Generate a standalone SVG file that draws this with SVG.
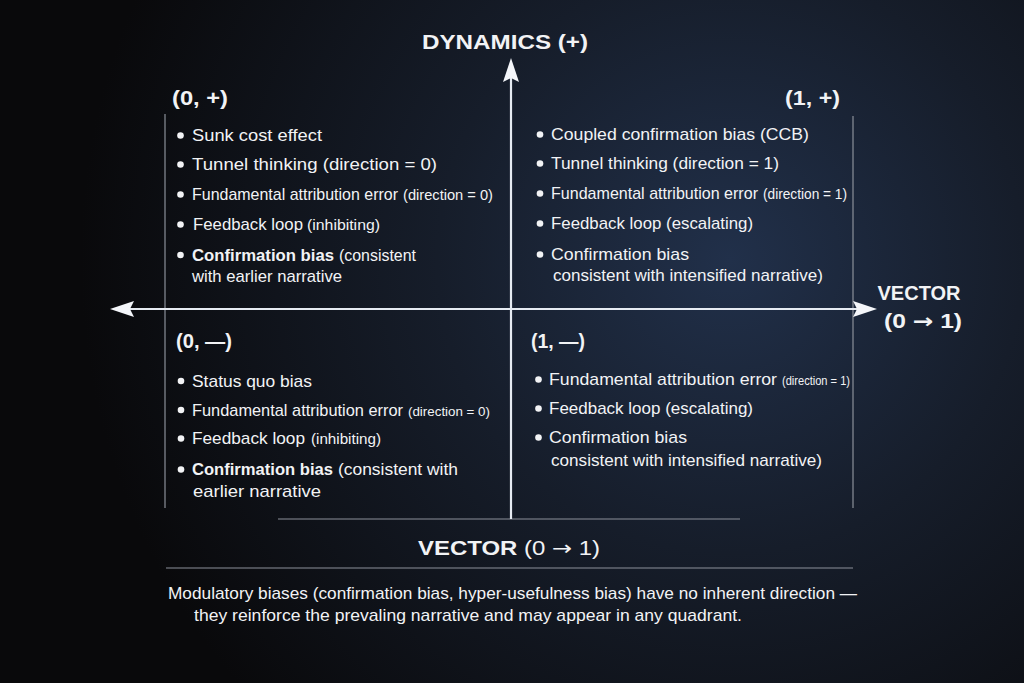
<svg xmlns="http://www.w3.org/2000/svg" width="1024" height="683" viewBox="0 0 1024 683">
<defs>
<radialGradient id="bg" cx="730" cy="260" r="650" gradientUnits="userSpaceOnUse">
<stop offset="0" stop-color="#21304a"/>
<stop offset="0.45" stop-color="#161d2a"/>
<stop offset="1" stop-color="#09090b"/>
</radialGradient>
<marker id="arrow" viewBox="0 0 24 16" refX="4" refY="8" markerWidth="24" markerHeight="16" markerUnits="userSpaceOnUse" orient="auto-start-reverse">
<path d="M0,0 L24,8 L0,16 L4,8 z" fill="#f4f6fa"/>
</marker>
</defs>
<style>
text{font-family:"Liberation Sans","Noto Sans",sans-serif;fill:#f2f3f5}
.item{font-size:17px}
.sm{font-size:15px}
.xs{font-size:13.5px}
.b{font-weight:bold}
.head{font-size:21px;font-weight:bold}
.axis{font-size:20px;font-weight:bold}
.arr{font-family:"DejaVu Sans",sans-serif}
.foot{font-size:17px}
.thin{stroke:#8b9099;stroke-width:1.2;fill:none}
.ax{stroke:#e6ebf2;stroke-width:2.2;fill:none}
.dot{fill:#f2f3f5}
</style>
<rect width="1024" height="683" fill="url(#bg)"/>

<g id="frame">
<line class="thin" x1="165" y1="114" x2="165" y2="508"/>
<line class="thin" x1="853" y1="116" x2="853" y2="508"/>
<line class="thin" x1="278" y1="519" x2="740" y2="519"/>
<line class="thin" x1="166" y1="568" x2="853" y2="568"/>
</g>

<g id="connectors">
<line class="ax" x1="511" y1="519" x2="511" y2="78" marker-end="url(#arrow)"/>
<line class="ax" x1="130" y1="309" x2="857" y2="309" marker-start="url(#arrow)" marker-end="url(#arrow)"/>
</g>

<g id="label-dynamics">
<text class="axis" x="505" y="49" text-anchor="middle" textLength="166" lengthAdjust="spacingAndGlyphs">DYNAMICS (+)</text>
</g>

<g id="label-vector-right">
<text class="axis" x="919" y="300" text-anchor="middle" textLength="83" lengthAdjust="spacingAndGlyphs">VECTOR</text>
<text class="axis" x="923" y="328" text-anchor="middle" textLength="78" lengthAdjust="spacingAndGlyphs">(0 <tspan class="arr">→</tspan> 1)</text>
</g>

<g id="quadrant-0-plus">
<text class="head" x="172" y="105" textLength="56" lengthAdjust="spacingAndGlyphs">(0, +)</text>
<circle class="dot" cx="180.5" cy="135.5" r="3.3"/>
<text class="item" x="192" y="141" textLength="130" lengthAdjust="spacingAndGlyphs">Sunk cost effect</text>
<circle class="dot" cx="180.5" cy="164.5" r="3.3"/>
<text class="item" x="192" y="170" textLength="245" lengthAdjust="spacingAndGlyphs">Tunnel thinking (direction = 0)</text>
<circle class="dot" cx="180.5" cy="194.5" r="3.3"/>
<text class="item" x="192" y="200" textLength="206" lengthAdjust="spacingAndGlyphs">Fundamental attribution error</text>
<text class="sm" x="403" y="200" textLength="90" lengthAdjust="spacingAndGlyphs">(direction = 0)</text>
<circle class="dot" cx="180.5" cy="224.5" r="3.3"/>
<text class="item" x="193" y="230" textLength="110" lengthAdjust="spacingAndGlyphs">Feedback loop</text>
<text class="sm" x="307" y="230" textLength="73" lengthAdjust="spacingAndGlyphs">(inhibiting)</text>
<circle class="dot" cx="180.5" cy="255" r="3.3"/>
<text class="item b" x="192" y="261" textLength="142" lengthAdjust="spacingAndGlyphs">Confirmation bias</text>
<text class="item" x="339" y="261" textLength="77" lengthAdjust="spacingAndGlyphs">(consistent</text>
<text class="item" x="192" y="282" textLength="150" lengthAdjust="spacingAndGlyphs">with earlier narrative</text>
</g>

<g id="quadrant-1-plus">
<text class="head" x="840" y="105" text-anchor="end" textLength="55" lengthAdjust="spacingAndGlyphs">(1, +)</text>
<circle class="dot" cx="540" cy="134.5" r="3.3"/>
<text class="item" x="551" y="140" textLength="258" lengthAdjust="spacingAndGlyphs">Coupled confirmation bias (CCB)</text>
<circle class="dot" cx="540" cy="163.5" r="3.3"/>
<text class="item" x="551" y="169" textLength="228" lengthAdjust="spacingAndGlyphs">Tunnel thinking (direction = 1)</text>
<circle class="dot" cx="540" cy="193.5" r="3.3"/>
<text class="item" x="551" y="199" textLength="207" lengthAdjust="spacingAndGlyphs">Fundamental attribution error</text>
<text class="sm" x="763" y="199" textLength="84" lengthAdjust="spacingAndGlyphs">(direction = 1)</text>
<circle class="dot" cx="540" cy="223.5" r="3.3"/>
<text class="item" x="551" y="229" textLength="202" lengthAdjust="spacingAndGlyphs">Feedback loop (escalating)</text>
<circle class="dot" cx="540" cy="254.5" r="3.3"/>
<text class="item" x="551" y="260" textLength="138" lengthAdjust="spacingAndGlyphs">Confirmation bias</text>
<text class="item" x="553" y="281" textLength="270" lengthAdjust="spacingAndGlyphs">consistent with intensified narrative)</text>
</g>

<g id="quadrant-0-minus">
<text class="head" x="176" y="348" textLength="56" lengthAdjust="spacingAndGlyphs">(0, —)</text>
<circle class="dot" cx="181" cy="381" r="3.3"/>
<text class="item" x="192" y="387" textLength="120" lengthAdjust="spacingAndGlyphs">Status quo bias</text>
<circle class="dot" cx="181" cy="410" r="3.3"/>
<text class="item" x="192" y="416" textLength="211" lengthAdjust="spacingAndGlyphs">Fundamental attribution error</text>
<text class="xs" x="408" y="416" textLength="82" lengthAdjust="spacingAndGlyphs">(direction = 0)</text>
<circle class="dot" cx="181" cy="438.5" r="3.3"/>
<text class="item" x="192" y="444" textLength="113" lengthAdjust="spacingAndGlyphs">Feedback loop</text>
<text class="sm" x="311" y="444" textLength="70" lengthAdjust="spacingAndGlyphs">(inhibiting)</text>
<circle class="dot" cx="181" cy="469.5" r="3.3"/>
<text class="item b" x="192" y="475" textLength="141" lengthAdjust="spacingAndGlyphs">Confirmation bias</text>
<text class="item" x="338" y="475" textLength="120" lengthAdjust="spacingAndGlyphs">(consistent with</text>
<text class="item" x="193" y="497" textLength="128" lengthAdjust="spacingAndGlyphs">earlier narrative</text>
</g>

<g id="quadrant-1-minus">
<text class="head" x="531" y="348" textLength="54" lengthAdjust="spacingAndGlyphs">(1, —)</text>
<circle class="dot" cx="538.5" cy="379.5" r="3.3"/>
<text class="item" x="549" y="385" textLength="228" lengthAdjust="spacingAndGlyphs">Fundamental attribution error</text>
<text class="xs" x="782" y="385" font-size="12.5" textLength="68" lengthAdjust="spacingAndGlyphs">(direction = 1)</text>
<circle class="dot" cx="538.5" cy="408.5" r="3.3"/>
<text class="item" x="549" y="414" textLength="204" lengthAdjust="spacingAndGlyphs">Feedback loop (escalating)</text>
<circle class="dot" cx="538.5" cy="437.5" r="3.3"/>
<text class="item" x="549" y="443" textLength="138" lengthAdjust="spacingAndGlyphs">Confirmation bias</text>
<text class="item" x="551" y="466" textLength="271" lengthAdjust="spacingAndGlyphs">consistent with intensified narrative)</text>
</g>

<g id="label-vector-bottom">
<text class="axis" x="418" y="555" textLength="182" lengthAdjust="spacingAndGlyphs">VECTOR <tspan font-weight="normal">(0 <tspan class="arr">→</tspan> 1)</tspan></text>
</g>

<g id="footnote">
<text class="foot" x="168" y="599" textLength="689" lengthAdjust="spacingAndGlyphs">Modulatory biases (confirmation bias, hyper-usefulness bias) have no inherent direction —</text>
<text class="foot" x="194" y="621" textLength="548" lengthAdjust="spacingAndGlyphs">they reinforce the prevaling narrative and may appear in any quadrant.</text>
</g>
</svg>
